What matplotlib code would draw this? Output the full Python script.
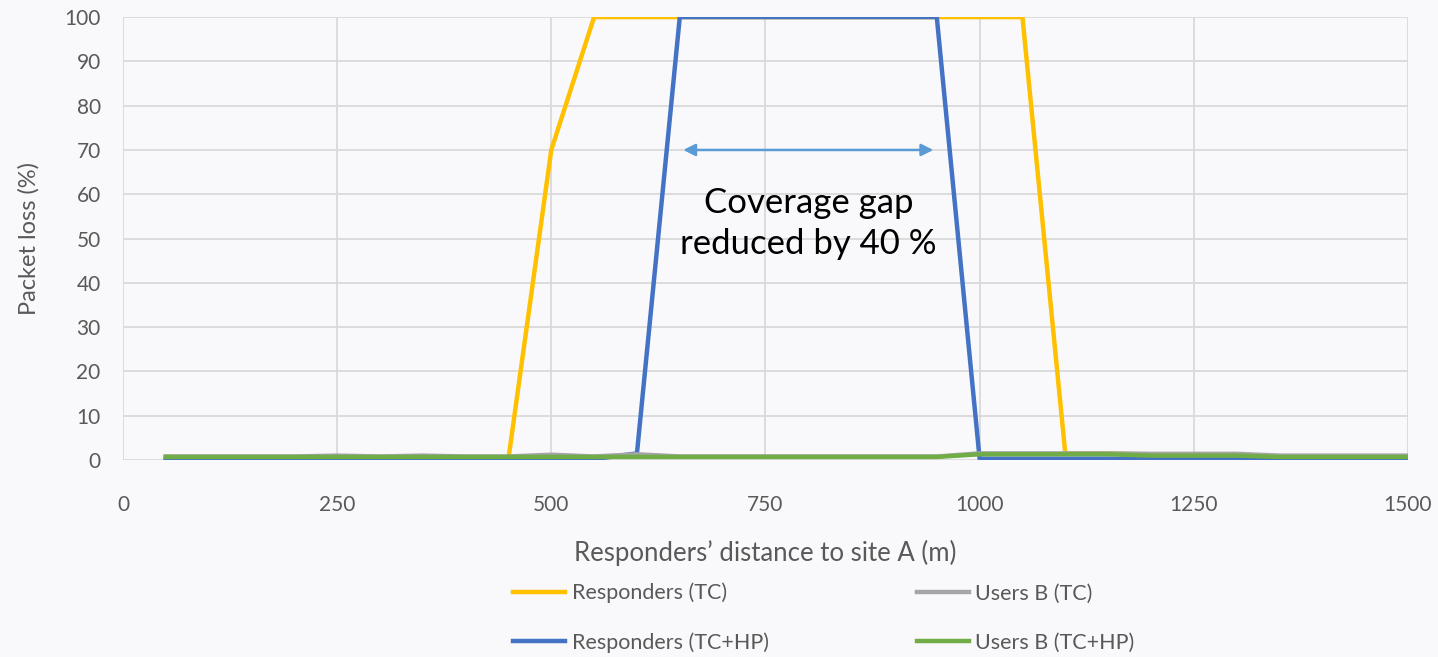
import matplotlib
matplotlib.use('Agg')

import matplotlib.pyplot as plt

plt.rcParams['font.family'] = ['Lato', 'DejaVu Sans']

# Distance of the responders to site A (m), one sample every 50 m
distance = [50, 100, 150, 200, 250, 300, 350, 400, 450, 500,
            550, 600, 650, 700, 750, 800, 850, 900, 950, 1000,
            1050, 1100, 1150, 1200, 1250, 1300, 1350, 1400, 1450, 1500]

# Packet loss (%) per scenario
responders_tc = [0.3, 0.3, 0.3, 0.3, 0.3, 0.3, 0.3, 0.3, 0.3, 70,
                 100, 100, 100, 100, 100, 100, 100, 100, 100, 100,
                 100, 1.5, 1.5, 1.2, 1.2, 1.2, 0.8, 0.8, 0.8, 0.8]
users_b_tc = [0.8, 0.8, 0.8, 0.8, 1.0, 0.8, 1.0, 0.8, 0.8, 1.2,
              0.8, 1.3, 0.8, 0.8, 0.8, 0.8, 0.8, 0.8, 0.8, 1.5,
              1.5, 1.5, 1.5, 1.4, 1.4, 1.4, 1.0, 1.0, 1.0, 1.0]
responders_tc_hp = [0.2, 0.2, 0.2, 0.2, 0.2, 0.2, 0.2, 0.2, 0.2, 0.2,
                    0.2, 1.5, 100, 100, 100, 100, 100, 100, 100, 0.3,
                    0.3, 0.3, 0.3, 0.2, 0.2, 0.2, 0.2, 0.2, 0.2, 0.2]
users_b_tc_hp = [0.7, 0.7, 0.7, 0.7, 0.7, 0.7, 0.7, 0.7, 0.7, 0.7,
                 0.7, 0.7, 0.7, 0.7, 0.7, 0.7, 0.7, 0.7, 0.7, 1.3,
                 1.3, 1.3, 1.3, 1.0, 1.0, 1.0, 0.7, 0.7, 0.7, 0.7]

x_ticks = [0, 250, 500, 750, 1000, 1250, 1500]
y_ticks = [0, 10, 20, 30, 40, 50, 60, 70, 80, 90, 100]

BG = '#f9f9fb'
TEXT = '#595959'

fig = plt.figure(figsize=(14.38, 6.57), dpi=100, facecolor=BG)
ax = fig.add_axes([0.0855, 0.2998, 0.8936, 0.6742], facecolor=BG)

l1, = ax.plot(distance, responders_tc, color='#ffc000', lw=3.2, label='Responders (TC)', zorder=3)
l3, = ax.plot(distance, responders_tc_hp, color='#4472c4', lw=3.2, label='Responders (TC+HP)', zorder=4)
l2, = ax.plot(distance, users_b_tc, color='#a5a5a5', lw=3.2, label='Users B (TC)', zorder=5)
l4, = ax.plot(distance, users_b_tc_hp, color='#70ad47', lw=3.2, label='Users B (TC+HP)', zorder=6)

ax.set_xlim(0, 1500)
ax.set_ylim(0, 100)
ax.set_xticks(x_ticks)
ax.set_yticks(y_ticks)
ax.grid(True, color='#d9d9d9', lw=1.3)
ax.set_axisbelow(True)
for s in ax.spines.values():
    s.set_visible(False)
ax.tick_params(length=0, labelsize=15, colors=TEXT)
ax.tick_params(axis='x', pad=25)
ax.tick_params(axis='y', pad=16)

ax.set_xlabel("Responders\u2019 distance to site A (m)", fontsize=18.5, color=TEXT, labelpad=18)
ax.set_ylabel('Packet loss (%)', fontsize=17, color=TEXT, labelpad=18)

# Coverage gap annotation
ax.annotate('', xy=(654, 70), xytext=(946, 70),
            arrowprops=dict(arrowstyle='<|-|>', color='#5b9bd5', lw=1.8,
                            mutation_scale=18, shrinkA=0, shrinkB=0))
ax.text(800, 53.3, 'Coverage gap\nreduced by 40 %', ha='center', va='center',
        fontsize=25, color='black', linespacing=1.35)

fig.legend(handles=[l1, l3, l2, l4], ncol=2, loc='center', bbox_to_anchor=(0.573, 0.0595),
           frameon=False, fontsize=15.5, labelcolor=TEXT, handlelength=2.4,
           handletextpad=0.3, columnspacing=6.9, labelspacing=1.35)

plt.savefig('out.png', dpi=100, facecolor=BG)
plt.close()
